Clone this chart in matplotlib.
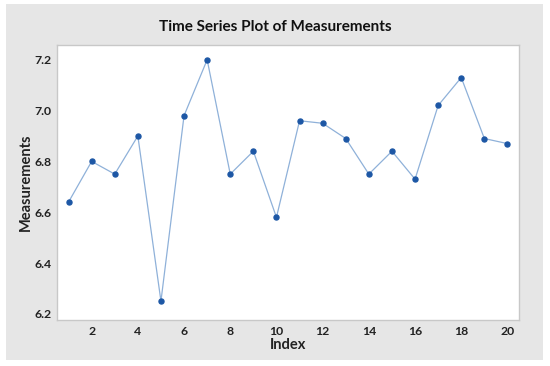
import matplotlib.pyplot as plt
from matplotlib.patches import Rectangle

# Data
index = list(range(1, 21))
measurements = [6.64, 6.80, 6.75, 6.90, 6.25, 6.98, 7.20, 6.75, 6.84, 6.58,
                6.96, 6.95, 6.89, 6.75, 6.84, 6.73, 7.02, 7.13, 6.89, 6.87]
x_ticks = [2, 4, 6, 8, 10, 12, 14, 16, 18, 20]
y_ticks = [6.2, 6.4, 6.6, 6.8, 7.0, 7.2]

W, H = 550, 366
fig = plt.figure(figsize=(5.5, 3.66), dpi=100)
fig.patch.set_facecolor("white")

# gray outer panel (drawn behind the axes)
fig.patches.append(Rectangle((6 / W, 1 - 360 / H), (543 - 6) / W, (360 - 4) / H,
                             transform=fig.transFigure, facecolor="#e6e6e6",
                             edgecolor="none", zorder=-10))

ax = fig.add_axes([57 / W, 1 - 320 / H, (519 - 57) / W, (320 - 45) / H])
ax.set_facecolor("white")
ax.plot(index, measurements, color="#8fb1d9", linewidth=0.9, zorder=2)
ax.plot(index, measurements, linestyle="none", marker="o", markersize=3.6,
        color="#1d57a5", zorder=3)

ax.set_xlim(0.5, 20.5)
ax.set_ylim(6.176, 7.258)
ax.set_xticks(x_ticks)
ax.set_yticks(y_ticks)
ax.set_yticklabels([f"{v:.1f}" for v in y_ticks])

for s in ax.spines.values():
    s.set_color("#c8c8c8")
    s.set_linewidth(1.0)
ax.tick_params(length=0, pad=4, labelsize=8.8, labelcolor="#222222")
for lbl in ax.get_xticklabels() + ax.get_yticklabels():
    lbl.set_fontfamily("Lato")
    lbl.set_fontweight("bold")

ax.set_xlabel("Index", fontsize=10.5, fontfamily="Lato", fontweight="bold",
              color="#222222", labelpad=1)
ax.set_ylabel("Measurements", fontsize=10.5, fontfamily="Lato", fontweight="bold",
              color="#222222", labelpad=1)
fig.text(275 / W, 1 - 27 / H, "Time Series Plot of Measurements", ha="center", va="center",
         fontsize=11, fontfamily="Lato", fontweight="bold", color="#111111")

fig.savefig("out.png", dpi=100)
